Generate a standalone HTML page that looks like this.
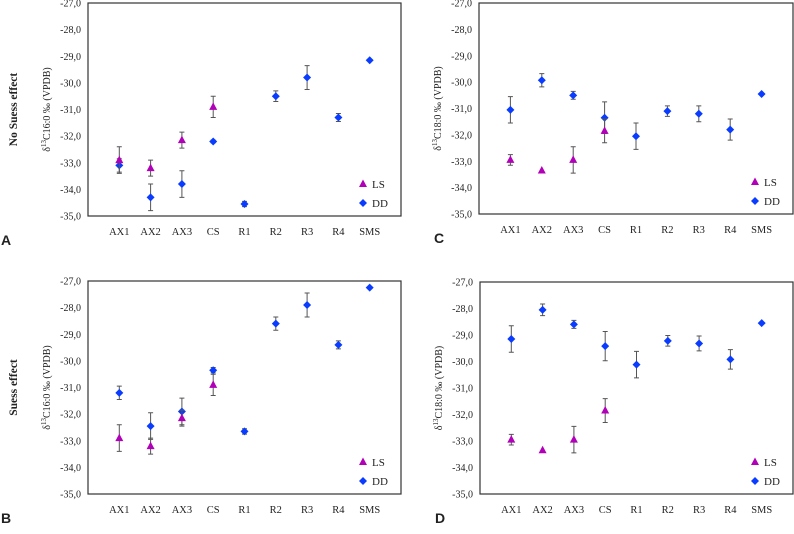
<!DOCTYPE html>
<html><head><meta charset="utf-8"><style>
body{margin:0;background:#fff}
svg text{font-family:"Liberation Serif",serif;fill:#222}
</style></head><body>
<svg id="chart" width="794" height="529" viewBox="0 0 794 529" xmlns="http://www.w3.org/2000/svg"></svg>
<script>
const categories=["AX1","AX2","AX3","CS","R1","R2","R3","R4","SMS"];
const yTicks=[-27,-28,-29,-30,-31,-32,-33,-34,-35];
const ls16=[-32.9,-33.2,-32.15,-30.9];
const ls16Err=[0.5,0.3,0.3,0.4];
const ddA=[-33.1,-34.3,-33.8,-32.2,-34.55,-30.5,-29.8,-31.3,-29.15];
const ddAErr=[0.25,0.5,0.5,0.05,0.1,0.2,0.45,0.15,0];
const ddB=[-31.2,-32.45,-31.9,-30.35,-32.65,-28.6,-27.9,-29.4,-27.25];
const ddBErr=[0.25,0.5,0.5,0.1,0.1,0.25,0.45,0.15,0];
const ls18=[-32.95,-33.35,-32.95,-31.85];
const ls18Err=[0.2,0,0.5,0.45];
const ddC=[-31.05,-29.93,-30.5,-31.35,-32.05,-31.1,-31.2,-31.8,-30.45];
const ddCErr=[0.5,0.25,0.15,0.6,0.5,0.2,0.3,0.4,0];
const ddD=[-29.15,-28.05,-28.6,-29.42,-30.12,-29.22,-29.32,-29.92,-28.55];
const ddDErr=[0.5,0.22,0.15,0.55,0.5,0.2,0.28,0.37,0];
const NS="http://www.w3.org/2000/svg";
const svg=document.getElementById('chart');
function mk(tag,attrs,parent,txt){const e=document.createElementNS(NS,tag);for(const k in attrs)e.setAttribute(k,attrs[k]);if(txt!==undefined)e.textContent=txt;(parent||svg).appendChild(e);return e;}
function panel(id,L,T,R,B,ls,lsE,dd,ddE,ytitle,letter,rowTitle){
  const g=mk('g',{});
  
  
  const y=v=>T+(-27-v)/8*(B-T);
  const x=i=>L+(i+1)*(R-L)/10;
  const box=mk('rect',{x:L,y:T,width:R-L,height:B-T,fill:'none',stroke:'#333','stroke-width':1.2},g);
  
  
  yTicks.forEach(t=>{
    const tl=mk('text',{x:L-7,y:y(t)+3.5,'font-size':10,'text-anchor':'end'},g,t.toFixed(1).replace('.',','));
    
    
  });
  categories.forEach((c,i)=>{
    const cl=mk('text',{x:x(i),y:B+19,'font-size':10.5,'text-anchor':'middle'},g,c);
    
    
  });
  const yt=mk('text',{transform:`translate(${L-38},${(T+B)/2}) rotate(-90)`,'font-size':10,'text-anchor':'middle'},g);
  
  
  mk('tspan',{},yt,'δ');mk('tspan',{'font-size':7,dy:-4},yt,'13');mk('tspan',{dy:4},yt,ytitle);
  function err(xx,v,e){if(e<=0)return;const a=mk('path',{d:`M${xx},${y(v-e)}V${y(v+e)}M${xx-2.5},${y(v-e)}h5M${xx-2.5},${y(v+e)}h5`,stroke:'#555','stroke-width':1,fill:'none'},g);
    }
  dd.forEach((v,i)=>{err(x(i),v,ddE[i]);const cx=x(i),cy=y(v);
    const p=mk('path',{d:`M${cx},${cy-4}L${cx+4},${cy}L${cx},${cy+4}L${cx-4},${cy}Z`,fill:'#0a3cff'},g);
    });
  ls.forEach((v,i)=>{err(x(i),v,lsE[i]);const cx=x(i),cy=y(v);
    const p=mk('path',{d:`M${cx},${cy-4.5}L${cx+4},${cy+3}L${cx-4},${cy+3}Z`,fill:'#b000b8'},g);
    });
  const lx=R-38,ly1=B-32,ly2=B-13;
  const l1=mk('path',{d:`M${lx},${ly1-4.5}L${lx+4},${ly1+3}L${lx-4},${ly1+3}Z`,fill:'#b000b8'},g);
  
  const t1=mk('text',{x:lx+9,y:ly1+4,'font-size':11},g,'LS');
  
  const l2=mk('path',{d:`M${lx},${ly2-4}L${lx+4},${ly2}L${lx},${ly2+4}L${lx-4},${ly2}Z`,fill:'#0a3cff'},g);
  
  const t2=mk('text',{x:lx+9,y:ly2+4,'font-size':11},g,'DD');
  
  const lt=mk('text',{x:L<200?1:L-45,y:B+29,'font-size':14,'font-weight':'bold',style:'font-family:"Liberation Sans",sans-serif'},g,letter);
  
  if(rowTitle){const rt=mk('text',{transform:`translate(17,${(T+B)/2}) rotate(-90)`,'font-size':11.5,'font-weight':'bold','text-anchor':'middle'},g,rowTitle);
    }
}
panel('a',88,3,401,216,ls16,ls16Err,ddA,ddAErr,'C16:0 ‰ (VPDB)','A','No Suess effect');
panel('c',479,3,793,214,ls18,ls18Err,ddC,ddCErr,'C18:0 ‰ (VPDB)','C',null);
panel('b',88,281,401,494,ls16,ls16Err,ddB,ddBErr,'C16:0 ‰ (VPDB)','B','Suess effect');
panel('d',480,282,793,494,ls18,ls18Err,ddD,ddDErr,'C18:0 ‰ (VPDB)','D',null);
</script>
</body></html>
